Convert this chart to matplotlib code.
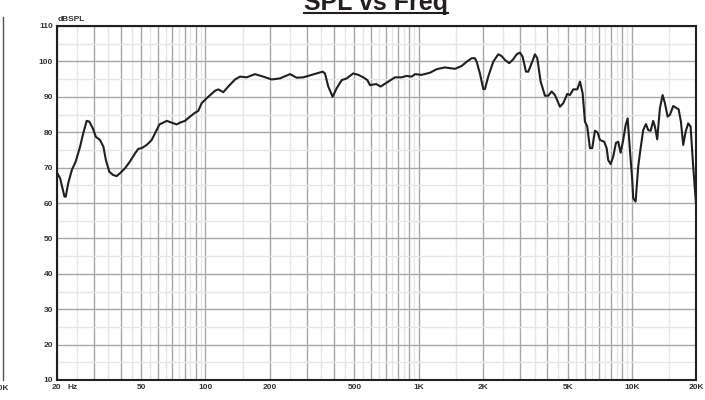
import matplotlib
matplotlib.use('Agg')
from matplotlib import pyplot as plt
from matplotlib.lines import Line2D
from matplotlib.ticker import NullFormatter

# SPL response (Hz, dB)
freq = [20.0, 20.8, 21.8, 22.1, 22.7, 23.6, 24.6, 25.8, 26.7, 27.7,
        28.5, 29.6, 30.6, 32.0, 33.2, 34.1, 35.4, 36.9, 38.3, 39.7,
        41.9, 44.2, 46.7, 48.4, 50.2, 53.0, 55.9, 57.9, 60.8, 63.4,
        65.8, 69.4, 73.3, 75.9, 80.1, 84.6, 89.3, 92.5, 95.9, 101.3,
        110.8, 114.8, 121.2, 127.9, 137.6, 145.2, 156.1, 170.7, 186.7, 204.4,
        223.6, 249, 267.7, 287.5, 314.8, 332.3, 354.5, 363.4, 376.6, 394.9,
        412.4, 435.3, 459.5, 493.3, 520.7, 549.6, 574.9, 590.8, 632.5, 663.3,
        707.9, 774.3, 832, 878.4, 927.2, 960.7, 1033, 1130, 1214, 1328,
        1480, 1591, 1679, 1772, 1836, 1871, 1938, 2009, 2046, 2120,
        2238, 2362, 2451, 2540, 2660, 2778, 2882, 2986, 3075, 3187,
        3266, 3389, 3512, 3600, 3735, 3912, 4055, 4206, 4358, 4601,
        4767, 4978, 5125, 5311, 5546, 5710, 5878, 6026, 6178, 6360,
        6520, 6713, 6913, 7085, 7422, 7618, 7750, 7953, 8179, 8422,
        8634, 8860, 9112, 9353, 9557, 9796, 10043, 10151, 10418, 10715,
        10997, 11308, 11644, 11937, 12251, 12600, 12832, 13155, 13545, 13944,
        14295, 14719, 15089, 15637, 16220, 16575, 16991, 17418, 17873, 18382,
        18866, 19403, 20000]
spl = [68.8, 67.0, 61.8, 61.8, 65.6, 69.3, 71.7, 75.9, 79.7, 83.2,
       83.0, 81.1, 78.7, 77.8, 75.9, 72.1, 68.8, 67.9, 67.6, 68.4,
       69.8, 71.7, 74.0, 75.3, 75.5, 76.4, 77.8, 79.6, 82.2, 82.7,
       83.2, 82.7, 82.2, 82.7, 83.2, 84.4, 85.5, 86.0, 88.2, 89.6,
       91.7, 92.1, 91.3, 92.9, 94.9, 95.7, 95.5, 96.4, 95.7, 94.9,
       95.2, 96.4, 95.4, 95.5, 96.2, 96.6, 97.1, 96.6, 92.9, 90.0,
       92.4, 94.7, 95.2, 96.6, 96.2, 95.5, 94.7, 93.3, 93.6, 92.9,
       94.0, 95.5, 95.5, 95.9, 95.7, 96.4, 96.2, 96.8, 97.8, 98.3,
       97.9, 98.7, 99.9, 100.9, 100.9, 99.9, 96.6, 92.2, 92.2, 95.7,
       99.9, 102.0, 101.5, 100.4, 99.5, 100.6, 102.0, 102.5, 101.3, 97.1,
       97.1, 99.5, 102.0, 100.9, 94.3, 90.3, 90.3, 91.5, 90.5, 87.2,
       88.2, 90.8, 90.5, 92.1, 92.1, 94.3, 91.0, 83.0, 81.6, 75.5,
       75.5, 80.4, 79.9, 77.8, 77.3, 75.5, 72.1, 71.0, 73.1, 77.0,
       77.3, 74.2, 77.8, 82.0, 83.9, 75.0, 66.5, 61.3, 60.4, 70.3,
       75.5, 80.6, 82.3, 80.6, 80.4, 83.2, 81.6, 78.0, 86.8, 90.5,
       88.2, 84.4, 84.9, 87.4, 86.8, 86.5, 83.0, 76.4, 80.1, 82.5,
       81.6, 70.3, 59.8]

label_freqs = [20, 50, 100, 200, 500, 1000, 2000, 5000, 10000, 20000]
label_texts = ['20', '50', '100', '200', '500', '1K', '2K', '5K', '10K', '20K']
db_ticks = list(range(10, 111, 10))

plt.rcParams['font.family'] = ['Liberation Sans', 'DejaVu Sans']
ink = '#231f20'

fig = plt.figure(figsize=(7.05, 4.0), dpi=100)
ax = fig.add_axes([56.5 / 705, 20 / 400, 639.5 / 705, 354 / 400])

ax.plot(freq, spl, color=ink, lw=1.5, solid_joinstyle='round', zorder=3)

ax.set_xscale('log')
ax.set_xlim(20, 20000)
ax.set_ylim(10, 110)

# grid: dark lines at each multiple, light lines half way between
major_x = (list(range(20, 100, 10)) + list(range(100, 1000, 100))
           + list(range(1000, 10000, 1000)) + [10000, 20000])
minor_x = (list(range(25, 100, 10)) + list(range(150, 1000, 100))
           + list(range(1500, 10000, 1000)) + [15000])
xlabels = [label_texts[label_freqs.index(f)] if f in label_freqs else ''
           for f in major_x]
ax.set_xticks(major_x, xlabels)
ax.set_xticks(minor_x, minor=True)
ax.xaxis.set_minor_formatter(NullFormatter())
ax.set_yticks(db_ticks, [str(v) for v in db_ticks])
ax.set_yticks(list(range(15, 110, 10)), minor=True)

ax.set_axisbelow(True)
ax.grid(which='major', color='#a8a8a8', lw=1.0)
ax.grid(which='minor', color='#e6e6e6', lw=1.0)
ax.tick_params(which='both', length=0)
ax.tick_params(axis='x', pad=3)
ax.tick_params(axis='y', pad=2.5)
for lab in ax.get_xticklabels() + ax.get_yticklabels():
    lab.set_fontsize(6)
    lab.set_fontweight('bold')
    lab.set_color('#333333')

for s in ax.spines.values():
    s.set_color(ink)
    s.set_linewidth(1.5)

ax.annotate('Hz', xy=(20, 0), xycoords=('data', 'axes fraction'),
            xytext=(11.5, -4), textcoords='offset pixels', ha='left', va='top',
            fontsize=6, fontweight='bold', color='#333333')
ax.annotate('dBSPL', xy=(0, 1), xycoords='axes fraction',
            xytext=(1, 3), textcoords='offset pixels', ha='left', va='bottom',
            fontsize=6, fontweight='bold', color='#333333')

# title, cut off at the top like the source image
title = fig.text(376 / 705, 1 - 10 / 400, 'SPL vs Freq', ha='center',
                 va='baseline', fontsize=18, fontweight='bold', color=ink)
fig.canvas.draw()
bb = title.get_window_extent()
fig.add_artist(Line2D([bb.x0 / 705, bb.x1 / 705], [387.5 / 400] * 2,
                      lw=1.5, color=ink))

# edge of the neighbouring chart on the left
fig.add_artist(Line2D([3 / 705] * 2, [1 - 17 / 400, 1 - 380 / 400],
                      lw=1.0, color='#555555'))
fig.text(9 / 705, 1 - 389 / 400, '20K', ha='right', va='center',
         fontsize=6, fontweight='bold', color='#333333')

plt.savefig('out.png', dpi=100)
